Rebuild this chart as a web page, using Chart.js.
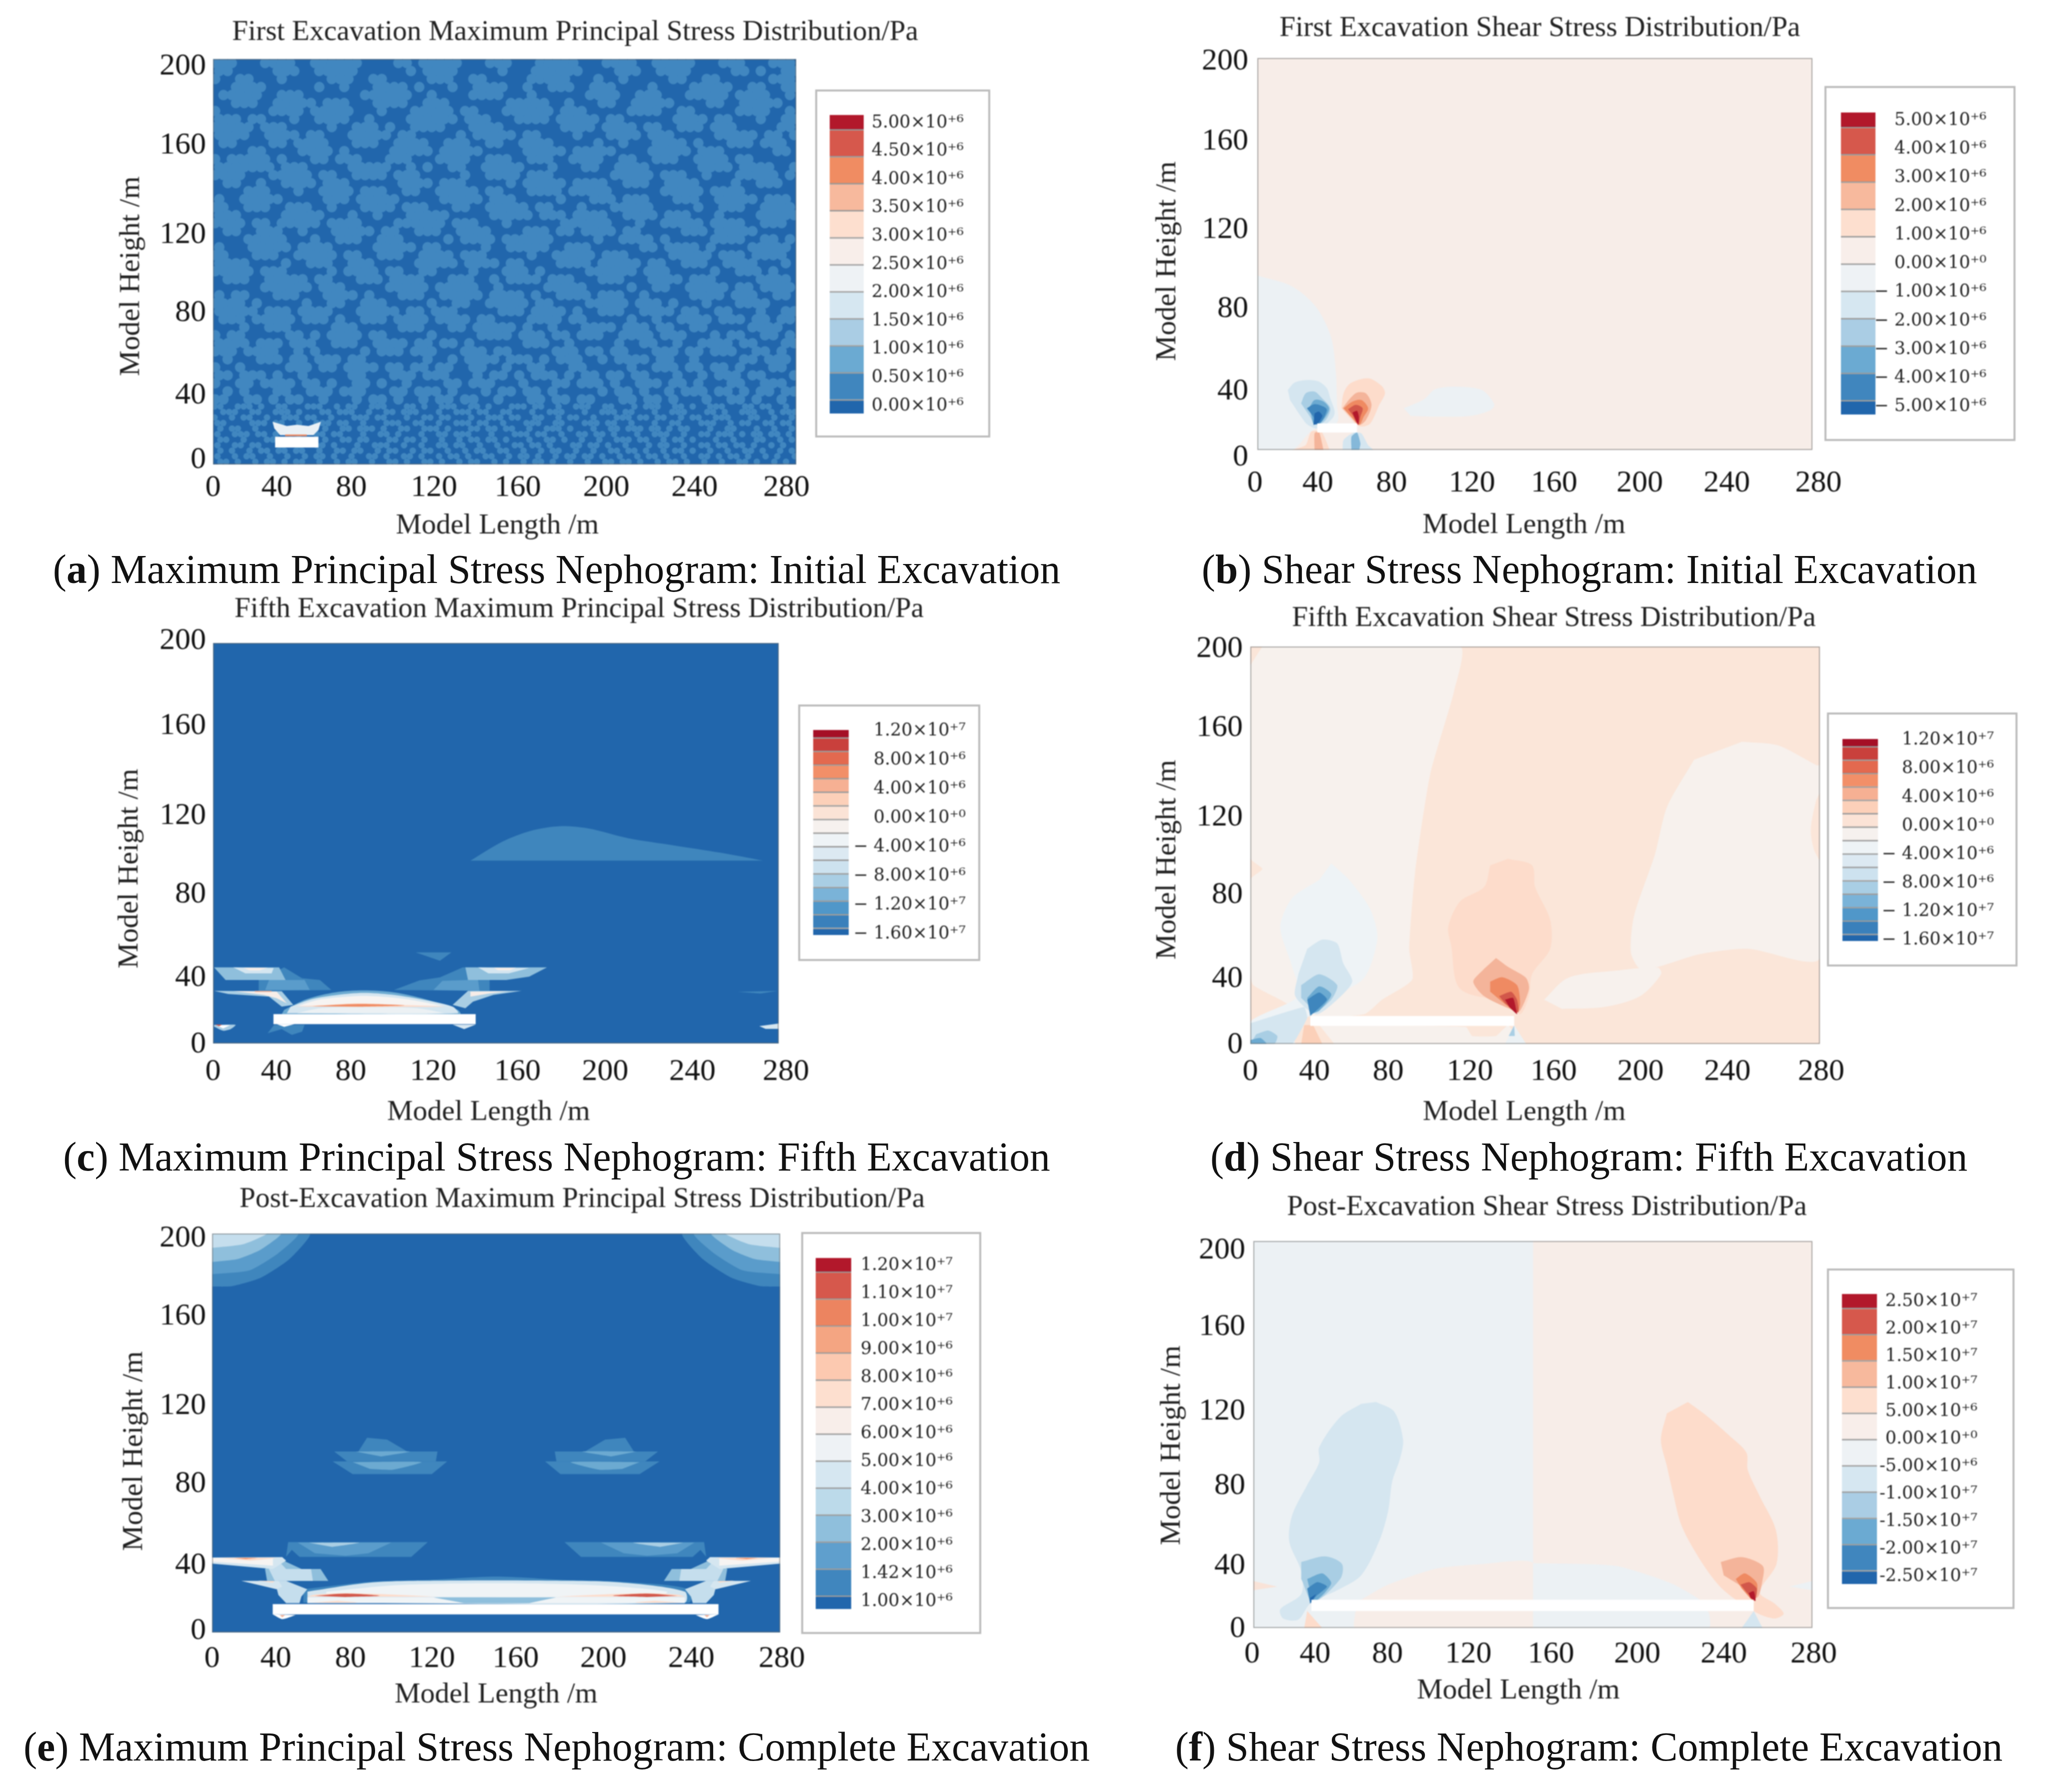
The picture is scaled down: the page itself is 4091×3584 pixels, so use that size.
<!DOCTYPE html>
<html>
<head>
<meta charset="utf-8">
<title>Excavation stress nephograms</title>
<script src="https://cdn.jsdelivr.net/npm/chart.js@4"></script>
<style>
  html, body { margin: 0; background: #fff; }
  #page { position: relative; width: 4091px; height: 3584px; overflow: hidden; }
  canvas { position: absolute; filter: blur(0.9px); }
  .caption { position: absolute; white-space: nowrap; transform: translate(-50%, -50%);
    font-family: "Liberation Serif", serif; font-size: 81.5px; color: #111; }
</style>
</head>
<body>
<div id="page"></div>
<script>
// contour colours, dark red to dark blue
const R5 = "#b2182b", R4 = "#d2574a", R3 = "#ef8a62", R2 = "#f4b49a", R1 = "#fddccb", R0 = "#f7ede8";
const B0 = "#ecf1f4", B1 = "#d5e6f0", B2 = "#a9cee4", B3 = "#6caad1", B4 = "#3f86bd", B5 = "#2166ac";
const B15 = "#c5deed", B25 = "#8fbfdc", B35 = "#5a9ccb", WARM = "#f7f4f2", HOLE = "#ffffff";

const xTickLabels = ["0", "40", "80", "120", "160", "200", "240", "280"];
const yTickLabels = ["200", "160", "120", "80", "40", "0"];

// tick labels in the source figure are not evenly spaced, positions read off each frame
const xTicksA = [0, 30.6, 66.4, 106.1, 146.3, 188.8, 231.2, 275.3];
const yTicksA = [196.3, 157.3, 113.2, 74.8, 34, 2.4];
const xTicksB = [-1.2, 30.5, 67.7, 108.3, 149.7, 192.9, 236.8, 283];
const yTicksB = [198.3, 157.4, 112.3, 72, 29.8, -3.8];
const xTicksC = [0, 31.3, 68.2, 108.9, 150.7, 194.1, 237.3, 283.6];
const yTicksC = [201, 158.5, 113.8, 74.4, 32.7, -0.4];
const xTicksD = [0, 31.5, 67.8, 107.9, 149.1, 191.8, 234.5, 280.6];
const yTicksD = [198.7, 159, 114.1, 75, 32.9, -0.5];
const xTicksE = [0, 31.4, 68.2, 108.3, 149.6, 192.9, 236.2, 280.8];
const yTicksE = [197.5, 158.5, 113.7, 74.5, 33.6, 0.9];
const xTicksF = [-0.6, 30.9, 67.2, 107.7, 149.1, 192.3, 235.6, 280.6];
const yTicksF = [195.1, 155.7, 111.9, 73.5, 32.1, -0.4];

// legend levels
const levelsA = ["5.00×10⁺⁶", "4.50×10⁺⁶", "4.00×10⁺⁶", "3.50×10⁺⁶", "3.00×10⁺⁶", "2.50×10⁺⁶", "2.00×10⁺⁶", "1.50×10⁺⁶", "1.00×10⁺⁶", "0.50×10⁺⁶", "0.00×10⁺⁶"];
const levelsB = ["5.00×10⁺⁶", "4.00×10⁺⁶", "3.00×10⁺⁶", "2.00×10⁺⁶", "1.00×10⁺⁶", "0.00×10⁺⁰", "− 1.00×10⁺⁶", "− 2.00×10⁺⁶", "− 3.00×10⁺⁶", "− 4.00×10⁺⁶", "− 5.00×10⁺⁶"];
const levelsCD = ["1.20×10⁺⁷", "8.00×10⁺⁶", "4.00×10⁺⁶", "0.00×10⁺⁰", "− 4.00×10⁺⁶", "− 8.00×10⁺⁶", "− 1.20×10⁺⁷", "− 1.60×10⁺⁷"];
const levelsE = ["1.20×10⁺⁷", "1.10×10⁺⁷", "1.00×10⁺⁷", "9.00×10⁺⁶", "8.00×10⁺⁶", "7.00×10⁺⁶", "6.00×10⁺⁶", "5.00×10⁺⁶", "4.00×10⁺⁶", "3.00×10⁺⁶", "2.00×10⁺⁶", "1.42×10⁺⁶", "1.00×10⁺⁶"];
const levelsF = ["2.50×10⁺⁷", "2.00×10⁺⁷", "1.50×10⁺⁷", "1.00×10⁺⁷", "5.00×10⁺⁶", "0.00×10⁺⁰", "-5.00×10⁺⁶", "-1.00×10⁺⁷", "-1.50×10⁺⁷", "-2.00×10⁺⁷", "-2.50×10⁺⁷"];

// colour bar bands top to bottom, height in label steps
const bands12 = [0.5, 0.955, 0.955, 0.955, 0.955, 0.955, 0.955, 0.955, 0.955, 0.955, 0.955, 0.5];
const colors12 = ["#b2182b", "#d6584c", "#f08c62", "#f7b99d", "#fddfcf", "#f8eeea", "#eef2f5", "#d6e7f1", "#aacde4", "#6baad2", "#4086be", "#2166ac"];
const bands14 = [0.48, 0.965, 0.965, 0.965, 0.965, 0.965, 0.965, 0.965, 0.965, 0.965, 0.965, 0.965, 0.965, 0.48];
const colors14 = ["#b2182b", "#d6584c", "#ec8460", "#f4a582", "#fcc9b0", "#fddfcf", "#f8eeea", "#eef2f5", "#d6e7f1", "#bcdaea", "#8fbfdc", "#5f9fcd", "#4086be", "#2166ac"];
const bands16 = [0.25, 0.47, 0.47, 0.47, 0.47, 0.47, 0.47, 0.47, 0.47, 0.47, 0.47, 0.47, 0.47, 0.47, 0.47, 0.25];
const colors16 = ["#a50f26", "#c9403c", "#e3694f", "#f28f68", "#f6b093", "#fcd0b9", "#fbe3d6", "#f6f1ee", "#eef3f6", "#dce9f2", "#cde2ef", "#a9cee4", "#7ab3d8", "#5097c9", "#3a80bb", "#2166ac"];

const frame = [[0, 0], [280, 0], [280, 200], [0, 200]];
const outline = [[0, 0], [280, 0], [280, 200], [0, 200], [0, 0]];

// (a) mottled zone, '#' is the 0.5e6 band, an eyeballed estimate of the texture. upper part covers y 30-200
const mottleUpper = [
  "###...####..######....##.#####...###...#####...####..#####...###...###",
  "##.....###..#####......#.####.....#...######....###..####.....##.#..##",
  "#..##...#.....###..##.....###..##.....#####...#..#.....##..##......###",
  "..####......#..#...####.#...#..####..#..###..###....#....#####..##..##",
  ".#####..###.......######..#....####...#......####..###...#####.####..#",
  "..###..#####.###...####..###.......#####..#...##..#####....##..#####..",
  "#......####.#####...#...#####.##...######.###.....####..##.....####..#",
  "###.##...#..####..#....######.###...####.#####.##......####.##...#..##",
  "#####.###.....#..###.#..####...####.......####.####.##..###.###.....##",
  "####..####.##...#####.##.....#.#####.##....#...####.###.....#####.##.#",
  ".##....##.####...###..####..###..##..####.....#..#...####.#...###.###.",
  "....##....####.#.....#####.#####.....#####.#####....#####.###......##.",
  "#.#####.#...##.###...###...####..###..###..####..##..###..####.##.....",
  "#######.###.....#####..#.#..##..#####...#...##..####......####.####..#",
  "####...#####.##..####.###.....#..####.###.......#####.###..#...#####.#",
  ".##..#..####.###......####.###.....#.#####.####..###..####....#..###..",
  "....###...#..####.###..##..#####.##...####.#####......#####.####......",
  "#..#####.....###.#####.....#####.###.....#...###.###...###..#####.###.",
  "##..###..###..#...####.###...##..#####.##...#...#####.....#..###..####",
  "###.....#####...#..#...#####.....#####.###.####..####.###...#....#####",
  "####.##.#####.####....######.###...#......######...#..#####.####..###.",
  ".##..###..#...#####.##..###..####....###.##.####.##.....###.#####.....",
  "....#####...#..###..###.....#.####.######.....#..####.#.....####..##.#",
  "#...#####.####.....#####.##.....#..#####..###......##.####.#....#####.",
  "##...###..#####.##..###..####.###.....#..#####.###.....#####.###.####.",
  "####....#..###..###.....#####.####.##....####.#####.##..###..####...#.",
  "#####.###.....#.####.##..##....#...###.#.....######.###.....#..###.#..",
  ".###..#####.##...###.####...###..#.####.###...###...####.###.....####.",
  "......######.###.....#####.#####..#.....#####.....#..##..#####.##.####",
  "#.##...###...####.#...###..#####.####.#..####.###..#.....####.###..##.",
  "####.#.....#..##..###.....#..##..#####.##....#####.###.#...#...####...",
  "#####.###.####...#####.##.###.....###.####.#..###..####.##..##...#..##",
  ".###.#####.###.#..###.####.####.##....####.##.....#..#..####.###.##.##",
  "...#..###.....###.....###...##.#####.#..#...####.###.##..##.....####..",
  "#.##.....##.#.####.##.....#.....####.###.##.###..####.###...#.##..##.#",
  "####.###.###..###..####.##.##.#......###..#.....#..##..#..####.##...##",
  "###.####..#.#.....#.###.###...###.##.....###.##.##...###.##.###..##.#.",
  ".#...###.##.###.##.......#..#.####.###.#.###..#.####.##..#.....##.###.",
  "#..#.....###.##.####.##.##.##..##..#..##...##.....#..###.##.##.#...##.",
  "##.###.#..#.....##...###.###...#.##.#.###.#.##.##.##...#..#.###.##...#",
  "#..##.####.##.#..##.#..#....##.###...#...##.###.#..###.##.#...##..###.",
  ".#.#...##..###.###...##.###.#...#.##.##.#.....#.##.#..#.###.##.#.##.##",
  "##..##.#.##..#...#.##.#..#.##.##..#...##.##.##...##.##.#...#..##.#..#."
];
// finer grain near the floor, y 0-30
const mottleLower = [
  "##..###.#..##...###..#.##..###...##.#..###..##.#...###.##..#..###..##...#.###..##.#..###...##.##..#.",
  ".###..##..###.#...##.###..#..##.###...#..###.##..##...#..###...#..###.##...#..###...##.#..###..#.###",
  "#..#.##..#..###.##..#...###.##...#..##.##...#..###.##..##..#.##..#...###.##.##..#.##..###...##..#..#",
  "##....###.##..#..###.##..#...###..##..#..###.##..#...###..##...###.##..#...#..##...###..#.##..##.##.",
  ".#.##..#...##.##...#..##.###.#..##..###.#...##.##.##..#..###.#...#..##.###.##.#.##...#..##...#..#..#",
  "#..###.##.#...#..##.##...#..##.#...#..##.###...#...###.##..#..##.##.#...#..###..#..##.###.#.##.##.#.",
  ".##..#...###.##.#..#..##.##...##.##.#..#..#.##.##.#...#..##.#..#..#..###.##..#.##.#...#..#...##..#.#",
  "#..##.##...#..#..##.#...#..###..#..#..##.##..#..#..##.##.#...##.##.#..#...#.##..#..##.##.##.#..#.#..",
  ".#.#..#.##.##.##..#..##.##..#.##..#.##..#..#.##..##..#..#.##..#..#..##.##.#..#.##.#..#..#..##.#..#.#.",
  "#..#.##..#..#..#.##.#..#..##.#..##.#..#.##.#..##..#.##.#..#.##.##.#..#..#.##.#..#..##.#.##.#..#.#..#",
  ".##.#..#.##.#.##..#..#.##..#..##.#..##.#..#.##..#.#..#.##.#..#..#..##.##.#..#.##.#..#..#..##.#..#.#."
];
const holeA = [[29.8, 13.7], [50.6, 13.7], [50.6, 8.4], [29.8, 8.4]];
const wingsA = [[28.6, 21.1], [35.4, 19], [40.2, 19.6], [45.8, 19], [51.8, 21.1], [50.6, 17], [48.2, 14.5], [32.2, 14.5], [29.4, 17.8]];
const lineA = [[34.6, 14.8], [45, 14.8], [45, 14], [34.6, 14]];

// (b) first excavation shear
const leftB = [[0, 89], [17.5, 83.5], [29.6, 73], [37.2, 57.6], [39.6, 40], [40.2, 23], [40.2, 14], [27.8, 10], [17.6, 0], [0, 0]];
const blueB1 = [[15.4, 30.6], [18.8, 34.4], [25.5, 35.7], [31.1, 34.9], [35.1, 31.5], [36.8, 26.4], [39, 19.6], [37.9, 16.2], [31.1, 11], [25.5, 12.8], [22.1, 17], [16.5, 25.5]];
const blueB2 = [[22.1, 23.8], [24.4, 28.9], [28.9, 29.8], [32.3, 26.8], [36.8, 21.3], [34.5, 15.3], [30, 12.8], [25.5, 18.7]];
const blueB3 = [[26.1, 21.3], [28.9, 25.5], [33.4, 24.7], [36.2, 21.3], [34.5, 17], [31.1, 13.2], [28.3, 13.6], [27.2, 17.9]];
const blueB4 = [[25, 21.3], [28.9, 23.4], [33.4, 22.1], [35.1, 20.4], [32.3, 14.4], [30, 13.2], [28.3, 17]];
const blueB5 = [[28.9, 18.7], [31.1, 19.6], [32.8, 17.4], [30.6, 13.6], [28.3, 12.8]];
const redB1 = [[42.4, 21.3], [43.5, 28.9], [46.9, 34], [55.9, 36.6], [62.7, 32.7], [64.4, 28.9], [61.5, 23], [57, 13.6], [52.5, 11.9], [49.2, 13.6]];
const redB2 = [[43, 21.3], [46.9, 26.4], [50.3, 29.3], [54.8, 28.9], [57.6, 23], [54.8, 15.3], [51.4, 12.8], [46.9, 17]];
const redB3 = [[43.5, 21.3], [48, 24.7], [52.5, 25.5], [55.9, 21.3], [53.7, 17], [51.4, 12.8], [48, 16.2]];
const redB4 = [[45.8, 20.8], [49.7, 23], [53.1, 21.3], [52, 17], [50.9, 13.2], [48, 17.9]];
const redB5 = [[48, 19.1], [50.3, 20], [51.2, 17], [50.9, 12.8], [49.2, 16.2]];
const holeB = [[30.2, 13.6], [50.3, 13.6], [50.3, 8.9], [30.2, 8.9]];
const floorRedB1 = [[17.6, 0], [24.4, 2.5], [27.2, 9.4], [32.3, 9.4], [36.2, 0.8], [36.2, 0]];
const floorRedB2 = [[28.9, 0], [28.9, 8.5], [31.1, 9.4], [33.4, 0]];
const floorBlueB1 = [[43, 0], [43.5, 5.1], [48.6, 8.9], [52.5, 8.5], [55.9, 2.5], [58.7, 0]];
const floorBlueB2 = [[47.5, 0], [47.5, 6.8], [50.3, 8.9], [52, 3.4], [51.4, 0]];
const islandB = [[73.9, 21.3], [84.1, 25.9], [89.7, 31], [101, 32.3], [113.3, 30.6], [119.5, 23.4], [117.8, 20.4], [107.7, 17.4], [90.8, 17], [77.3, 17.4]];

// (c) fifth excavation principal
const humpC = [[127.4, 91.3], [143, 100.7], [157.2, 106.2], [171.4, 108.5], [185.6, 107.4], [205.5, 102.5], [228.3, 98.9], [251, 95.3], [272.3, 91.3]];
const smallC = [[100.3, 45.5], [118, 45.5], [112.3, 41.3]];
const archLeftC = [[35.2, 38], [44.1, 32.6], [52.9, 31.7], [58.6, 26.7], [22.6, 26.3], [22.6, 31.7]];
const archLeftInC = [[31.5, 38], [35.9, 31.7], [45.3, 31.7], [47.9, 26.7], [25.8, 26.7], [27.7, 31.7]];
const archRightC = [[123.6, 38], [112.3, 33], [102.2, 31.5], [89.5, 26.7], [136.9, 26.3], [136.9, 31.7], [130, 38]];
const archRightInC = [[127.4, 38], [126.2, 31.7], [113.5, 31.3], [109.1, 26.7], [131.9, 26.3], [131.2, 31.7]];
const wedgeLeftC = [[0.5, 38], [32.7, 38], [35.9, 31.7], [6.2, 31.7]];
const wedgeLeftC2 = [[10, 38], [30, 37.7], [29, 35], [16, 35]];
const wedgeLeftC3 = [[15, 37.8], [27, 37.8], [23, 36.5], [18, 36.5]];
const wedgeRightC = [[124.9, 38], [165.3, 38], [156.5, 33.4], [145.1, 31.7], [126.2, 31.7]];
const wedgeRightC2 = [[131.2, 38], [156.5, 37.7], [146.4, 35], [136.3, 35]];
const wedgeRightC3 = [[139, 37.8], [150, 37.8], [147, 36.6], [141, 36.6]];
const lowLeftC = [[0.5, 26.3], [34, 26.1], [39.7, 19.3], [34, 18.4], [27.7, 23.4], [7.5, 24.7]];
const lowLeftC2 = [[10, 26.2], [31.5, 25.9], [36.5, 20.1], [31.5, 22.6], [25.1, 24.3]];
const lowLeftC3 = [[20.7, 26.3], [29, 26.3], [29, 25.7], [20.7, 25.7]];
const lowRightC = [[126.2, 26.3], [152.7, 26.3], [138.8, 24.3], [128.7, 20.9], [124.9, 17.6], [118.6, 19.3]];
const lowRightC2 = [[127.4, 25.9], [146.4, 26.1], [136.3, 24.9], [127.4, 23.4]];
const domeC1 = [[35.2, 16.8], [46.6, 22.2], [60.5, 25.5], [74.4, 26.5], [89.5, 25.5], [104.7, 22.2], [121.1, 16.8], [122.4, 14.7], [34, 14.7]];
const domeC2 = [[38.4, 18.4], [49.1, 22.2], [61.8, 24.3], [74.4, 25.3], [88.3, 24.4], [102.2, 22.2], [118.6, 18.4], [121.1, 15.1], [36.5, 15.1]];
const domeC3 = [[42, 18.8], [52, 21.8], [64, 23.2], [74.4, 23.8], [86, 23.2], [98, 21.8], [114, 18.8]];
const streakC1 = [[39, 18.4], [56.7, 19.3], [71.9, 20.1], [89.5, 19.4], [114.8, 18.4], [89.5, 18.3], [71.9, 18.2], [54, 18.4]];
const streakC2 = [[49.1, 18.6], [71.9, 19.7], [94.6, 19], [71.9, 18.4]];
const underC = [[41.6, 15.1], [52.9, 17.6], [74.4, 18], [100.9, 17.6], [114.8, 15.1]];
const holeC = [[29.9, 14.7], [130, 14.7], [130, 9.7], [29.9, 9.7]];
const bumpC1 = [[27, 5.1], [30.2, 9.3], [45.3, 9.3], [44.1, 5.9], [39, 4.3], [34, 7.2]];
const bumpC2 = [[118.6, 9.4], [130, 9.4], [124.3, 7.2]];
const bumpC3 = [[31.5, 9.7], [40.3, 9.7], [35.2, 8.3]];
const edgeC1 = [[0.5, 9.3], [11.2, 9.3], [8.7, 7.2], [4.9, 6.4], [0.5, 8.4]];
const edgeC2 = [[1.5, 9.2], [8.5, 9.2], [5, 7.5]];
const edgeC3 = [[1, 9.4], [4.5, 9.4], [3, 8.6]];
const edgeC4 = [[270.4, 8.7], [280, 10], [280, 7.3], [273.5, 7.3]];
const edgeC5 = [[259.6, 25.8], [279.5, 26.3], [271, 25]];

// (d) fifth excavation shear
const leftD = [[5.9, 200], [103.1, 200], [100.2, 177.7], [88.4, 135.6], [81, 86.3], [78.1, 47.9], [79.6, 32.4], [64.8, 22.3], [56, 15], [29.5, 14.1], [14.7, 22.3], [1.5, 29.6], [0, 35.1], [0, 82.6], [5.9, 88.1], [0, 93.6], [0, 190.5]];
const underD = [[33.9, 9.5], [106, 8.6], [109, 4], [120.8, 4], [126.7, 9.5], [132.6, 0], [41.3, 0]];
const rightD = [[241.7, 152.1], [259.3, 150.3], [278.5, 140.2], [280, 140.2], [280, 43.3], [244.6, 47.9], [221, 45.2], [200.4, 38.8], [191.6, 37.8], [187.1, 46], [188.6, 64.3], [198.9, 95.4], [204.8, 119.2], [218.1, 143]];
const stripD = [[280, 126.5], [278, 122], [275.5, 108], [277, 98], [280, 92]];
const lensD = [[144.4, 22.3], [156.2, 33.3], [179.8, 36.9], [200.4, 38.4], [201.9, 35.1], [191.6, 24.1], [173.9, 18.6], [153.2, 17.7]];
const redD1 = [[126.7, 93.2], [138.5, 89.9], [140, 79], [147.4, 62.5], [147.4, 47.9], [138.5, 35.1], [137, 24.1], [132.6, 15], [126.7, 20.5], [103.1, 27.8], [98.7, 49.7], [97.3, 58.9], [103.1, 71.7], [114.9, 79], [117.9, 89.9]];
const redD2 = [[120.8, 43.3], [126.7, 38.8], [135.5, 33.3], [137, 27.8], [132.6, 16.8], [129.7, 16.8], [114.9, 24.1], [109.6, 31.4], [114.9, 37.8]];
const redD3 = [[117.9, 31.4], [123.8, 33.6], [131.1, 29.6], [132.6, 20.5], [131.1, 15.9], [117.9, 26.3]];
const redD4 = [[122.3, 24.1], [128.2, 26.3], [131.1, 22.3], [131.7, 15.9], [125.2, 20.5]];
const redD5 = [[125.2, 22.3], [129.1, 23.2], [130.6, 17.7], [131.1, 15], [127.3, 18.6]];
const blueD0 = [[39.8, 90.9], [48.6, 82.6], [58.9, 68], [62.5, 53.4], [56, 33.3], [38.3, 22.3], [29.5, 14.1], [14.7, 9.5], [22.1, 0], [0, 0], [0, 11.3], [23.6, 24.1], [20.6, 38.8], [14.7, 58.9], [20.6, 73.5], [33.9, 82.6]];
const blueD1 = [[28, 47.9], [35.4, 52.5], [42.7, 50.6], [45.7, 40.6], [50.1, 31.4], [42.7, 22.3], [32.4, 15], [22.1, 24.1], [23.6, 35.1]];
const blueD2 = [[25, 29.6], [33.9, 35.1], [42.7, 29.6], [39.8, 22.3], [32.4, 16.8], [25, 23.2]];
const blueD3 = [[28, 23.2], [33.9, 29], [39.8, 25], [33.9, 16.8], [29.5, 15]];
const blueD4 = [[28, 22.3], [33.9, 25.9], [37.7, 22.3], [29.5, 14.1]];
const cornerD1 = [[0, 10.4], [26.5, 18.6], [28, 13.2], [20.6, 0], [0, 0]];
const cornerD2 = [[2.9, 4.9], [8.8, 6.8], [13.3, 4], [11.8, 0], [0, 0]];
const cornerD3 = [[0, 2], [5, 3], [8, 0], [0, 0]];
const holeD = [[29.5, 14.1], [129.7, 14.1], [129.7, 9.1], [29.5, 9.1]];
const wedgeD1 = [[26.5, 9.5], [30.9, 9.5], [35.4, 0], [25, 0]];
const wedgeD2 = [[129.7, 9.5], [125.2, 0], [135.6, 0]];
const wedgeD3 = [[129.7, 9.3], [127, 4], [130, 4]];

// (e) complete excavation principal
const cornerE1L = [[0, 173.4], [9.9, 173.6], [24, 177.8], [38.2, 187.2], [48.1, 200], [0, 200]];
const cornerE2L = [[0, 179.6], [18.4, 181.5], [32.5, 190], [42.4, 200], [0, 200]];
const cornerE3L = [[0, 185.7], [12.7, 187.2], [24, 191.9], [33.9, 200], [0, 200]];
const cornerE4L = [[0, 192.8], [15.6, 194.7], [26.9, 200], [0, 200]];
const cornerE1R = [[280, 173.4], [270.1, 173.6], [256, 177.8], [241.8, 187.2], [231.9, 200], [280, 200]];
const cornerE2R = [[280, 179.6], [261.6, 181.5], [247.5, 190], [237.6, 200], [280, 200]];
const cornerE3R = [[280, 185.7], [267.3, 187.2], [256, 191.9], [246.1, 200], [280, 200]];
const cornerE4R = [[280, 192.8], [264.4, 194.7], [253.1, 200], [280, 200]];
const floatE1L = [[59.4, 85.8], [115.9, 85.8], [108.3, 79.4], [69.3, 79.4]];
const floatE2L = [[60.2, 90.7], [111.1, 90.7], [110.3, 85.8], [66.5, 85.8]];
const floatE3L = [[72.1, 90.7], [76.4, 97.6], [86.3, 96.7], [96.2, 90.7]];
const floatE4L = [[69.3, 85.4], [103.2, 85.4], [89.1, 81.6], [77.8, 82]];
const floatE5L = [[70.7, 90.7], [97.6, 90.7], [83.4, 88.2]];
const floatE1R = [[220.6, 85.8], [164.1, 85.8], [171.7, 79.4], [210.7, 79.4]];
const floatE2R = [[219.8, 90.7], [168.9, 90.7], [169.7, 85.8], [213.5, 85.8]];
const floatE3R = [[207.9, 90.7], [203.6, 97.6], [193.7, 96.7], [183.8, 90.7]];
const floatE4R = [[210.7, 85.4], [176.8, 85.4], [190.9, 81.6], [202.2, 82]];
const floatE5R = [[209.3, 90.7], [182.4, 90.7], [196.6, 88.2]];
const trapE1L = [[37.5, 45.3], [106.3, 45.3], [98.2, 37.9], [43.1, 37.9], [39.3, 41.4], [36.5, 38]];
const trapE2L = [[42.2, 45.1], [88.4, 45.1], [77.1, 39.7], [65.7, 38.5], [50.7, 39.7]];
const trapE3L = [[47.8, 45], [72.4, 45], [59.1, 42.9]];
const trapE1R = [[242.5, 45.3], [173.7, 45.3], [181.8, 37.9], [236.9, 37.9], [240.7, 41.4], [243.5, 38]];
const trapE2R = [[237.8, 45.1], [191.6, 45.1], [202.9, 39.7], [214.3, 38.5], [229.3, 39.7]];
const trapE3R = [[232.2, 45], [207.6, 45], [220.9, 42.9]];
const domeE1 = [[45, 21.7], [79, 25.5], [107, 26.4], [140, 28], [173, 26.4], [201, 25.5], [235, 21.7], [235, 15], [45, 15]];
const domeE2 = [[47, 20.5], [79, 25.1], [111, 26], [168, 26], [201, 25.1], [233, 20.5], [233, 15], [47, 15]];
const domeE3 = [[56.3, 20.5], [92.2, 23.8], [139.3, 24.7], [186.5, 23.8], [224.2, 20.5], [220.4, 18], [56.3, 18]];
const lowE = [[109.1, 17.6], [169.5, 17.6], [156.3, 14.7], [124.2, 14.7]];
const lowE2L = [[47, 17.6], [110, 17.6], [125, 14.7], [47, 14.7]];
const lowE2R = [[233, 17.6], [170, 17.6], [155, 14.7], [233, 14.7]];
const streakE1L = [[46.9, 18], [50.7, 19], [69.5, 19.7], [111, 18]];
const streakE2L = [[50.7, 18.4], [65.7, 19.5], [82.7, 18.4], [65.7, 17.8]];
const streakE3L = [[48.8, 15], [71.4, 15], [62, 15.9]];
const streakE1R = [[233.1, 18], [229.3, 19], [210.5, 19.7], [169, 18]];
const streakE2R = [[229.3, 18.4], [214.3, 19.5], [197.3, 18.4], [214.3, 17.8]];
const streakE3R = [[231.2, 15], [208.6, 15], [218, 15.9]];
const trunkE1L = [[32.7, 37.2], [44.1, 31.8], [53.5, 31.8], [57.3, 25.9], [27.1, 25.9], [26.1, 31.8]];
const trunkE2L = [[32.7, 36], [36.5, 31.8], [48.8, 31.8], [49.7, 25.9], [30.9, 25.9], [28, 31.8]];
const trunkE3L = [[30.9, 25.9], [36.5, 25.9], [46.9, 21.7], [44, 18], [43.1, 14.7], [36.5, 14.7], [32.7, 18.8]];
const trunkE1R = [[247.3, 37.2], [235.9, 31.8], [226.5, 31.8], [222.7, 25.9], [252.9, 25.9], [253.9, 31.8]];
const trunkE2R = [[247.3, 36], [243.5, 31.8], [231.2, 31.8], [230.3, 25.9], [249.1, 25.9], [252, 31.8]];
const trunkE3R = [[249.1, 25.9], [243.5, 25.9], [233.1, 21.7], [236, 18], [236.9, 14.7], [243.5, 14.7], [247.3, 18.8]];
const tipE1L = [[14.4, 25.9], [32.7, 25.9], [34.6, 23], [31.8, 21.7]];
const tipE2L = [[22.4, 26], [30.9, 25.7], [29.9, 25]];
const tipE1R = [[265.6, 25.9], [247.3, 25.9], [245.4, 23], [248.2, 21.7]];
const tipE2R = [[257.6, 26], [249.1, 25.7], [250.1, 25]];
const bandE1L = [[0, 37.6], [34.6, 37.8], [36.5, 36], [29.9, 31.8], [0, 34.5]];
const bandE2L = [[0, 37.4], [30, 37.4], [30, 33.5], [0, 35.5]];
const bandE3L = [[3.5, 37.4], [31.8, 37.4], [18.6, 36]];
const bandE4L = [[11, 37.4], [22.4, 37.4], [16.7, 36.8]];
const bandE1R = [[280, 37.6], [245.4, 37.8], [243.5, 36], [250.1, 31.8], [280, 34.5]];
const bandE2R = [[280, 37.4], [250, 37.4], [250, 33.5], [280, 35.5]];
const bandE3R = [[276.5, 37.4], [248.2, 37.4], [261.4, 36]];
const bandE4R = [[269, 37.4], [257.6, 37.4], [263.3, 36.8]];
const holeE = [[29.9, 14.2], [249.6, 14.2], [249.6, 9.1], [29.9, 9.1]];
const bumpE1 = [[29.9, 9.1], [34.6, 6.7], [41.2, 8.8]];
const bumpE2 = [[238.3, 8.8], [243.9, 6.7], [249.6, 9.1]];
const dotE1 = [[33.4, 8.8], [36, 8.8], [34.6, 7.6]];
const dotE2 = [[242.6, 8.8], [245.2, 8.8], [243.9, 7.6]];

// (f) complete excavation shear
const rightHalfF = [[140.1, 0], [280, 0], [280, 200], [140.1, 200]];
const underLeftF = [[54, 14.6], [67.5, 22.4], [91.5, 30.7], [115.5, 33.1], [140.1, 33.5], [140.1, 0], [51, 0], [51, 7.8]];
const underRightF = [[140.1, 33.5], [181.5, 32.1], [208.6, 23.4], [223.6, 14.6], [228.1, 7.8], [228.1, 0], [140.1, 0]];
const blueF1 = [[61.5, 116.8], [70.5, 111.9], [75, 97.3], [73.5, 87.6], [69.6, 75.9], [67.5, 60.3], [63, 44.8], [54, 27.2], [42, 19.5], [28.5, 12.6], [22.5, 4.3], [15, 4.9], [13.5, 9.7], [24, 17.5], [24, 29.2], [18, 44.8], [19.5, 58.4], [27, 73.9], [33, 85.6], [33, 93.4], [43.5, 109], [54, 115.8]];
const blueF2 = [[24, 34.1], [36, 37], [44.4, 33.1], [43.5, 25.3], [30, 13.6], [24, 25.3]];
const blueF3 = [[27, 25.3], [34.5, 28.2], [39, 23.4], [36, 18.5], [30, 12.6]];
const blueF4 = [[27, 20.4], [32.1, 23.7], [36.9, 21.4], [31.5, 16.5], [28.5, 12.6]];
const blueF5 = [[28.5, 15.6], [31.5, 17.5], [28.5, 12.6]];
const redF1 = [[217.6, 116.8], [226.6, 110], [238.6, 99.2], [247, 90.5], [247.6, 81.7], [253.6, 68.1], [261.7, 50.6], [262, 33.1], [253.6, 18.5], [261.1, 12.6], [265.6, 7.4], [261.1, 4.9], [252.1, 7.8], [235.6, 19.5], [225.1, 33.1], [214.6, 52.5], [210.1, 70.1], [207.1, 83.7], [204.1, 97.3], [207.1, 110.9]];
const redF2 = [[234.1, 34.1], [244.6, 36.6], [255.1, 32.1], [255.1, 25.3], [252.1, 15.6], [244.6, 21.4], [235.6, 27.2]];
const redF3 = [[241.6, 25.3], [246.1, 28.2], [252.1, 23.4], [252.1, 17.5], [250.6, 14], [244.6, 20.4]];
const redF4 = [[244, 22.4], [248.4, 23.7], [252.1, 20.4], [251.2, 14.6], [247, 18.5]];
const redF5 = [[248, 18], [250.6, 19], [251.5, 14], [249, 15.5]];
const holeF = [[29.1, 14.6], [250.6, 14.6], [250.6, 8.8], [29.1, 8.8]];
const wedgeF1 = [[27, 8.8], [34.5, 0], [25.5, 0]];
const wedgeF2 = [[250.6, 8.8], [244.6, 0], [255, 0]];
const sideF1 = [[0, 24.3], [12, 21.4], [0, 19.5]];
const sideF2 = [[268.6, 21.4], [280, 24.3], [280, 19.5]];

// mottled cells of (a) on their read grid, odd rows sit half a cell over
const cellsUpper = mottleUpper.flatMap((row, r) => [...row].flatMap((c, i) => c === "#" ? [[(i + 0.25 + (r % 2) * 0.5) * 4, 200 - (r + 0.5) * 3.95]] : []));
const cellsLower = mottleLower.flatMap((row, r) => [...row].flatMap((c, i) => c === "#" ? [[(i + 0.25 + (r % 2) * 0.5) * 2.8, 30 - (r + 0.5) * 2.73]] : []));

// layers go bottom to top: [colour, points, tension]
const panels = [
  {
    title: "First Excavation Maximum Principal Stress Distribution/Pa", caption: ["a", "Maximum Principal Stress Nephogram: Initial Excavation"],
    xTicks: xTicksA, yTicks: yTicksA,
    plot: [426, 118, 1592, 929], canvas: [228, 30, 2072, 1087], tickPad: [14, 10], yShift: 4, xShift: 2, capAt: [1113, 1139],
    legend: { box: [1630, 179, 1980, 875], bar: [1659, 230, 1727, 827], textRight: 1927, levels: levelsA, bands: bands12, colors: colors12 },
    layers: [
      [B5, frame, 0],
      { cells: cellsUpper, color: "#4187c0", radius: 10.5 },
      { cells: cellsLower, color: "#4187c0", radius: 6.5 },
      ["#eaf1f6", wingsA, 0], [HOLE, holeA, 0], [R3, lineA, 0]
    ]
  },
  {
    title: "First Excavation Shear Stress Distribution/Pa", caption: ["b", "Shear Stress Nephogram: Initial Excavation"],
    xTicks: xTicksB, yTicks: yTicksB,
    plot: [2514, 116, 3624, 900], canvas: [2300, 22, 3858, 1086], tickPad: [18, 30], yShift: 2, xShift: 3, capAt: [3178, 1139],
    legend: { box: [3648, 172, 4030, 882], bar: [3681, 225, 3750, 829], textRight: 3972, levels: levelsB, bands: bands12, colors: colors12 },
    layers: [
      [R0, frame, 0], [B0, leftB, 0.3], [B0, islandB, 0.3],
      [B1, blueB1, 0.3], [B2, blueB2, 0.3], [B3, blueB3, 0.3], [B4, blueB4, 0.3], [B5, blueB5, 0.2],
      [R1, redB1, 0.3], [R2, redB2, 0.3], [R3, redB3, 0.3], [R4, redB4, 0.3], [R5, redB5, 0.2],
      [R1, floorRedB1, 0.2], [R2, floorRedB2, 0.2], [B1, floorBlueB1, 0.2], ["#85b8d9", floorBlueB2, 0.2],
      [HOLE, holeB, 0]
    ]
  },
  {
    title: "Fifth Excavation Maximum Principal Stress Distribution/Pa", caption: ["c", "Maximum Principal Stress Nephogram: Fifth Excavation"],
    xTicks: xTicksC, yTicks: yTicksC,
    plot: [426, 1286, 1557, 2087], canvas: [225, 1184, 2091, 2260], tickPad: [14, 20], yShift: 7, xShift: 2, capAt: [1113, 2314],
    legend: { box: [1596, 1409, 1960, 1922], bar: [1626, 1460, 1697, 1870], textRight: 1931, levels: levelsCD, bands: bands16, colors: colors16 },
    layers: [
      [B5, frame, 0], [B4, humpC, 0.3], [B4, smallC, 0],
      [B4, archLeftC, 0], [B35, archLeftInC, 0], [B4, archRightC, 0], [B35, archRightInC, 0],
      [B25, wedgeLeftC, 0], [B1, wedgeLeftC2, 0], [R0, wedgeLeftC3, 0],
      [B25, wedgeRightC, 0], [B1, wedgeRightC2, 0], [R0, wedgeRightC3, 0],
      [B2, lowLeftC, 0], [R0, lowLeftC2, 0], [R2, lowLeftC3, 0],
      [B2, lowRightC, 0], [R0, lowRightC2, 0],
      [B3, domeC1, 0.3], [B1, domeC2, 0.3], [WARM, domeC3, 0.3], [R1, streakC1, 0.3], [R3, streakC2, 0.3],
      [B0, underC, 0.3], [HOLE, holeC, 0],
      [B4, bumpC1, 0], [B1, bumpC2, 0], [HOLE, bumpC3, 0],
      [B2, edgeC1, 0.2], [HOLE, edgeC2, 0], [R4, edgeC3, 0], [B1, edgeC4, 0], [B4, edgeC5, 0]
    ]
  },
  {
    title: "Fifth Excavation Shear Stress Distribution/Pa", caption: ["d", "Shear Stress Nephogram: Fifth Excavation"],
    xTicks: xTicksD, yTicks: yTicksD,
    plot: [2500, 1293, 3639, 2088], canvas: [2300, 1202, 3914, 2260], tickPad: [15, 19], yShift: 4, xShift: 3, capAt: [3177, 2314],
    legend: { box: [3653, 1425, 4034, 1933], bar: [3684, 1478, 3755, 1882], textRight: 3987, levels: levelsCD, bands: bands16, colors: colors16 },
    layers: [
      ["#fbe6d9", frame, 0], ["#f7f1ed", leftD, 0.2], ["#f7f1ed", underD, 0.1], ["#f7f1ed", rightD, 0.25], ["#fbe6d9", stripD, 0.3], ["#f7f1ed", lensD, 0.3],
      [R1, redD1, 0.3], [R2, redD2, 0.25], [R3, redD3, 0.25], [R4, redD4, 0.2], [R5, redD5, 0.2],
      ["#eef3f6", blueD0, 0.25], [B1, cornerD1, 0.1], [B2, cornerD2, 0.2], [B3, cornerD3, 0.2],
      [B1, blueD1, 0.25], [B2, blueD2, 0.25], [B3, blueD3, 0.25], [B4, blueD4, 0.2],
      ["#fbd0b9", wedgeD1, 0], [B0, wedgeD2, 0], [B2, wedgeD3, 0],
      [HOLE, holeD, 0]
    ]
  },
  {
    title: "Post-Excavation Maximum Principal Stress Distribution/Pa", caption: ["e", "Maximum Principal Stress Nephogram: Complete Excavation"],
    xTicks: xTicksE, yTicks: yTicksE,
    plot: [424, 2467, 1560, 3265], canvas: [234, 2364, 2094, 3425], tickPad: [12, 16], yShift: 5, xShift: 0, capAt: [1113, 3494],
    legend: { box: [1602, 2464, 1962, 3268], bar: [1631, 2516, 1702, 3218], textRight: 1905, levels: levelsE, bands: bands14, colors: colors14 },
    layers: [
      [B5, frame, 0],
      [B4, cornerE1L, 0.2], [B35, cornerE2L, 0.2], [B25, cornerE3L, 0.2], [B15, cornerE4L, 0.2],
      [B4, cornerE1R, 0.2], [B35, cornerE2R, 0.2], [B25, cornerE3R, 0.2], [B15, cornerE4R, 0.2],
      [B4, floatE1L, 0], [B4, floatE2L, 0], [B4, floatE3L, 0], [B3, floatE4L, 0.2], [B3, floatE5L, 0.2],
      [B4, floatE1R, 0], [B4, floatE2R, 0], [B4, floatE3R, 0], [B3, floatE4R, 0.2], [B3, floatE5R, 0.2],
      [B4, trapE1L, 0], [B35, trapE2L, 0], [B2, trapE3L, 0.2], [B4, trapE1R, 0], [B35, trapE2R, 0], [B2, trapE3R, 0.2],
      [B4, domeE1, 0.3], [B1, domeE2, 0.3], ["#f0f4f6", domeE3, 0.3],
      ["#f0f4f6", lowE2L, 0], ["#f0f4f6", lowE2R, 0], [B25, lowE, 0],
      [R1, streakE1L, 0.3], [R4, streakE2L, 0.3], [R1, streakE3L, 0.3],
      [R1, streakE1R, 0.3], [R4, streakE2R, 0.3], [R1, streakE3R, 0.3],
      [B25, trunkE1L, 0], [B15, trunkE2L, 0], [B15, trunkE3L, 0], [B25, trunkE1R, 0], [B15, trunkE2R, 0], [B15, trunkE3R, 0],
      [B1, tipE1L, 0], [R1, tipE2L, 0], [B1, tipE1R, 0], [R1, tipE2R, 0],
      [B1, bandE1L, 0], [WARM, bandE2L, 0], [R1, bandE3L, 0.2], [R3, bandE4L, 0.2],
      [B1, bandE1R, 0], [WARM, bandE2R, 0], [R1, bandE3R, 0.2], [R3, bandE4R, 0.2],
      [HOLE, holeE, 0], [HOLE, bumpE1, 0.2], [HOLE, bumpE2, 0.2], [R2, dotE1, 0], [R2, dotE2, 0]
    ]
  },
  {
    title: "Post-Excavation Shear Stress Distribution/Pa", caption: ["f", "Shear Stress Nephogram: Complete Excavation"],
    xTicks: xTicksF, yTicks: yTicksF,
    plot: [2506, 2482, 3624, 3256], canvas: [2309, 2380, 3877, 3417], tickPad: [16, 16], yShift: 3, xShift: 4, capAt: [3177, 3494],
    legend: { box: [3653, 2537, 4028, 3218], bar: [3683, 2588, 3753, 3168], textRight: 3954, levels: levelsF, bands: bands12, colors: colors12 },
    layers: [
      [B0, frame, 0], [R0, rightHalfF, 0], [R0, underLeftF, 0.2], [B0, underRightF, 0.2],
      ["#f9e3d8", sideF1, 0], [B0, sideF2, 0],
      [B1, blueF1, 0.3], [B2, blueF2, 0.3], [B3, blueF3, 0.25], [B4, blueF4, 0.2], [B5, blueF5, 0],
      [R1, redF1, 0.3], [R2, redF2, 0.3], [R3, redF3, 0.25], [R4, redF4, 0.2], [R5, redF5, 0.2],
      [R1, wedgeF1, 0], [B1, wedgeF2, 0], [HOLE, holeF, 0]
    ]
  }
];

const SERIF = "Liberation Serif";
const page = document.getElementById("page");

function addCanvas(rect) {
  const c = document.createElement("canvas");
  c.width = rect[2] - rect[0];
  c.height = rect[3] - rect[1];
  c.style.left = rect[0] + "px";
  c.style.top = rect[1] + "px";
  page.appendChild(c);
  return c;
}

function toXY(pts) {
  return pts.map(p => ({ x: p[0], y: p[1] }));
}

function layerDataset(l) {
  if (l.cells) {
    return { data: toXY(l.cells), showLine: false, pointRadius: l.radius, pointHoverRadius: l.radius,
      pointBackgroundColor: l.color, pointBorderWidth: 0 };
  }
  return { data: toXY(l[1]), showLine: true, fill: "shape", backgroundColor: l[0], borderWidth: 0,
    pointRadius: 0, tension: l[2] };
}

function drawPanel(p) {
  const [cl, ct, cr, cb] = p.canvas;
  const [pl, pt, pr, pb] = p.plot;
  const edge = { data: toXY(outline), showLine: true, fill: false, borderColor: "rgba(105,105,105,0.55)", borderWidth: 4, pointRadius: 0 };
  new Chart(addCanvas(p.canvas), {
    type: "scatter",
    // chart.js paints dataset 0 last, layers are listed bottom first
    data: { datasets: [edge].concat(p.layers.map(layerDataset).reverse()) },
    options: {
      responsive: false,
      animation: false,
      plugins: {
        legend: { display: false },
        tooltip: { enabled: false },
        title: { display: true, text: p.title, color: "#222", font: { family: SERIF, size: 57.5, weight: "normal" },
          padding: { top: 0, bottom: pt - ct - 69 } }
      },
      scales: {
        x: {
          type: "linear", min: 0, max: 280,
          grid: { display: false, drawTicks: false }, border: { display: false },
          afterBuildTicks: s => { s.ticks = p.xTicks.map(v => ({ value: v })); },
          afterFit: s => { s.height = cb - pb; },
          ticks: { autoSkip: false, maxRotation: 0, padding: p.tickPad[1], color: "#111",
            font: { family: SERIF, size: 62 }, callback: (v, i) => xTickLabels[i] },
          title: { display: true, text: "Model Length /m" + "\u00a0".repeat(p.xShift), color: "#222", padding: 0,
            font: { family: SERIF, size: 58 } }
        },
        y: {
          type: "linear", min: 0, max: 200,
          grid: { display: false, drawTicks: false }, border: { display: false },
          afterBuildTicks: s => { s.ticks = p.yTicks.map(v => ({ value: v })).reverse(); },
          afterFit: s => { s.width = pl - cl; },
          ticks: { autoSkip: false, padding: p.tickPad[0], color: "#111",
            font: { family: SERIF, size: 62 }, callback: (v, i) => yTickLabels[yTickLabels.length - 1 - i] },
          title: { display: true, text: "Model Height /m" + "\u00a0".repeat(p.yShift), color: "#222", padding: 0,
            font: { family: SERIF, size: 58 } }
        },
        // empty right axis holds the room for the colour bar box, so the title stays centred on the canvas
        spacer: {
          type: "linear", position: "right", min: 0, max: 1,
          grid: { display: false, drawTicks: false }, border: { display: false },
          ticks: { display: false },
          afterFit: s => { s.width = cr - pr; }
        }
      }
    }
  });
}

function drawLegend(l) {
  const [bl, bt, br, bb] = l.box;
  const [x0, y0, x1, y1] = l.bar;
  const total = l.bands.reduce((a, b) => a + b, 0);
  const n = l.levels.length;
  const first = (total - (n - 1)) / 2;
  const c = addCanvas(l.box);
  c.style.outline = "4px solid #bcbcbc";
  c.style.outlineOffset = "-4px";
  new Chart(c, {
    type: "bar",
    data: {
      labels: [""],
      datasets: l.bands.map((b, i) => ({
        data: [b], backgroundColor: l.colors[i], barPercentage: 1, categoryPercentage: 1,
        borderColor: "rgba(80,80,80,0.55)", borderWidth: { top: i === 0 ? 0 : 3, left: 0, right: 0, bottom: 0 }, borderSkipped: false
      })).reverse()
    },
    options: {
      responsive: false,
      animation: false,
      layout: { padding: { left: x0 - bl, top: y0 - bt, bottom: bb - y1, right: br - l.textRight } },
      plugins: { legend: { display: false }, tooltip: { enabled: false }, title: { display: false } },
      scales: {
        x: { stacked: true, display: false },
        y: {
          stacked: true, position: "right", min: 0, max: total,
          grid: { display: false, drawTicks: false }, border: { display: false },
          afterBuildTicks: s => { s.ticks = l.levels.map((_, i) => ({ value: first + i })); },
          afterFit: s => { s.width = l.textRight - x1; },
          ticks: { autoSkip: false, crossAlign: "far", color: "#222",
            font: { family: "DejaVu Serif", size: 35 }, callback: (v, i) => l.levels[n - 1 - i] }
        }
      }
    }
  });
}

function addCaption(p) {
  const d = document.createElement("div");
  d.className = "caption";
  d.style.left = p.capAt[0] + "px";
  d.style.top = p.capAt[1] + "px";
  d.innerHTML = "(<b>" + p.caption[0] + "</b>) " + p.caption[1];
  page.appendChild(d);
}

panels.forEach(p => {
  drawPanel(p);
  drawLegend(p.legend);
  addCaption(p);
});
</script>
</body>
</html>
